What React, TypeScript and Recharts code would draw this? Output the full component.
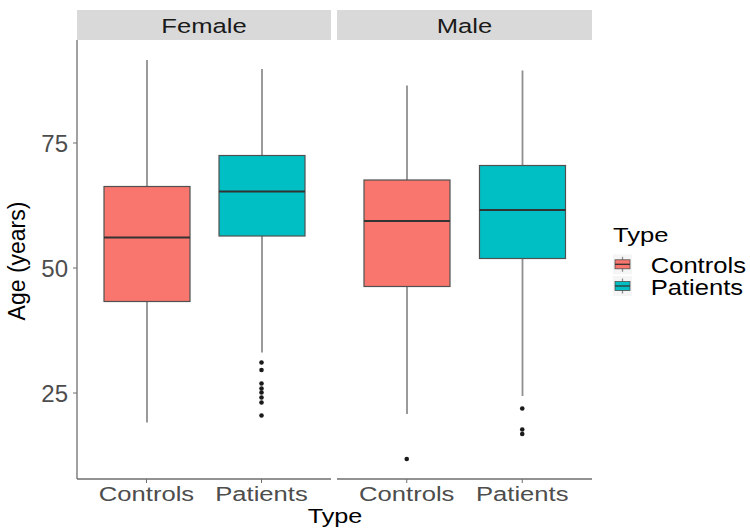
import { ComposedChart, Bar, Scatter, XAxis, YAxis } from 'recharts';

const types = ['Controls', 'Patients'];
const typeColors = ['#F8766D', '#00BFC4'];
const yTicks = [25, 50, 75];
const yDomain = [7.8, 95.6];

// box stats per type
const femaleLow = [19.1, 33.1];
const femaleQ1 = [43.3, 56.4];
const femaleMedian = [56.1, 65.3];
const femaleQ3 = [66.3, 72.5];
const femaleHigh = [91.6, 89.8];
const femaleOutliers = [[], [31.1, 29.6, 26.9, 25.9, 25.1, 24.1, 23.1, 20.5]];

const maleLow = [20.8, 24.4];
const maleQ1 = [46.3, 51.9];
const maleMedian = [59.4, 61.6];
const maleQ3 = [67.6, 70.5];
const maleHigh = [86.5, 89.5];
const maleOutliers = [[11.8], [21.9, 17.7, 16.8]];

const FONT = '"Liberation Sans", Arial, sans-serif';
const AXIS_GREY = '#6E6E6E';

// the reference text is a bit wider than it is tall
function StretchText({ x, y, anchor = 'start', size = 21, sx = 1.22, fill = '#000', children }: any) {
  return (
    <text
      transform={`translate(${x},${y}) scale(${sx},1)`}
      textAnchor={anchor}
      fontSize={size}
      fill={fill}
      fontFamily={FONT}
    >
      {children}
    </text>
  );
}

function BoxShape(props: any) {
  const { x, y, width, height, payload } = props;
  const top = Math.min(y, y + height);
  const span = Math.abs(height);
  const unit = span / (payload.high - payload.low);
  const py = (v: number) => top + (payload.high - v) * unit;
  const cx = x + width / 2;
  return (
    <g>
      <line x1={cx} x2={cx} y1={py(payload.high)} y2={py(payload.q3)} stroke="#8F8F8F" strokeWidth={1.8} />
      <line x1={cx} x2={cx} y1={py(payload.q1)} y2={py(payload.low)} stroke="#8F8F8F" strokeWidth={1.8} />
      <rect
        x={x}
        y={py(payload.q3)}
        width={width}
        height={py(payload.q1) - py(payload.q3)}
        fill={payload.color}
        stroke="#505050"
        strokeWidth={1.2}
      />
      <line x1={x} x2={x + width} y1={py(payload.median)} y2={py(payload.median)} stroke="#333333" strokeWidth={2} />
    </g>
  );
}

const OutlierDot = (props: any) => <circle cx={props.cx} cy={props.cy} r={2.3} fill="#1A1A1A" />;

const XTick = (props: any) => (
  <StretchText x={props.x} y={props.y + 16} anchor="middle" size={21} sx={1.22} fill="#4D4D4D">
    {props.payload.value}
  </StretchText>
);

function FacetPanel({ title, low, q1, median, q3, high, outliers, left, plotWidth, showYAxis }: any) {
  const rows = types.map((type, i) => ({
    type,
    range: [low[i], high[i]],
    low: low[i],
    q1: q1[i],
    median: median[i],
    q3: q3[i],
    high: high[i],
    color: typeColors[i],
  }));
  const points = types.flatMap((type, i) => outliers[i].map((age: number) => ({ type, age })));
  const yAxisWidth = showYAxis ? 77 : 0;

  return (
    <>
      <div style={{ position: 'absolute', left, top: 10, width: plotWidth, height: 30, background: '#D9D9D9' }}>
        <svg width={plotWidth} height={30} style={{ display: 'block' }}>
          <StretchText x={plotWidth / 2} y={23.3} anchor="middle" size={20.5} sx={1.25} fill="#1A1A1A">
            {title}
          </StretchText>
        </svg>
      </div>
      <div style={{ position: 'absolute', left: left - yAxisWidth, top: 0 }}>
        <ComposedChart
          width={yAxisWidth + plotWidth}
          height={529}
          data={rows}
          margin={{ top: 40, right: 0, bottom: 0, left: 0 }}
        >
          <XAxis
            dataKey="type"
            allowDuplicatedCategory={false}
            padding={{ left: 12, right: 12 }}
            height={50}
            tickSize={4}
            tickMargin={2}
            axisLine={{ stroke: AXIS_GREY, strokeWidth: 1.3 }}
            tickLine={{ stroke: AXIS_GREY }}
            tick={<XTick />}
          />
          <YAxis
            hide={!showYAxis}
            type="number"
            domain={yDomain}
            ticks={yTicks}
            width={yAxisWidth}
            tickSize={4}
            tickMargin={5}
            axisLine={{ stroke: AXIS_GREY, strokeWidth: 1.3 }}
            tickLine={{ stroke: AXIS_GREY }}
            tick={{ fontSize: 24, fill: '#4D4D4D', fontFamily: FONT }}
          />
          <Bar dataKey="range" barSize={86} shape={BoxShape} isAnimationActive={false} />
          <Scatter data={points} dataKey="age" shape={OutlierDot} isAnimationActive={false} />
        </ComposedChart>
      </div>
    </>
  );
}

function LegendKey({ cy, color }: any) {
  return (
    <g>
      <rect x={613} y={cy - 10} width={19} height={20} fill="#F5F5F5" />
      <line x1={622.5} x2={622.5} y1={cy - 7.5} y2={cy + 7.5} stroke="#8F8F8F" strokeWidth={1.3} />
      <rect x={615} y={cy - 4.5} width={15} height={9} fill={color} stroke="#505050" strokeWidth={0.8} />
      <line x1={615} x2={630} y1={cy} y2={cy} stroke="#333333" strokeWidth={1.3} />
    </g>
  );
}

export default function App() {
  return (
    <div
      style={{
        position: 'absolute',
        left: 0,
        top: 0,
        width: 750,
        height: 529,
        background: '#FFFFFF',
        fontFamily: FONT,
        overflow: 'hidden',
      }}
    >
      <FacetPanel
        title="Female"
        low={femaleLow}
        q1={femaleQ1}
        median={femaleMedian}
        q3={femaleQ3}
        high={femaleHigh}
        outliers={femaleOutliers}
        left={77}
        plotWidth={254}
        showYAxis
      />
      <FacetPanel
        title="Male"
        low={maleLow}
        q1={maleQ1}
        median={maleMedian}
        q3={maleQ3}
        high={maleHigh}
        outliers={maleOutliers}
        left={337}
        plotWidth={255}
        showYAxis={false}
      />
      <svg
        width={750}
        height={529}
        style={{ position: 'absolute', left: 0, top: 0, pointerEvents: 'none' }}
      >
        <text
          x={24.5}
          y={261}
          transform="rotate(-90, 24.5, 261)"
          textAnchor="middle"
          fontSize={23}
          fill="#000"
          fontFamily={FONT}
        >
          Age (years)
        </text>
        <StretchText x={335} y={523.3} anchor="middle" size={21} sx={1.2}>
          Type
        </StretchText>

        <StretchText x={613} y={242} size={21} sx={1.22}>
          Type
        </StretchText>
        {types.map((t, i) => (
          <g key={t}>
            <LegendKey cy={264.3 + i * 21.7} color={typeColors[i]} />
            <StretchText x={650.7} y={273.3 + i * 21.7} size={21.5} sx={1.19}>
              {t}
            </StretchText>
          </g>
        ))}
      </svg>
    </div>
  );
}
